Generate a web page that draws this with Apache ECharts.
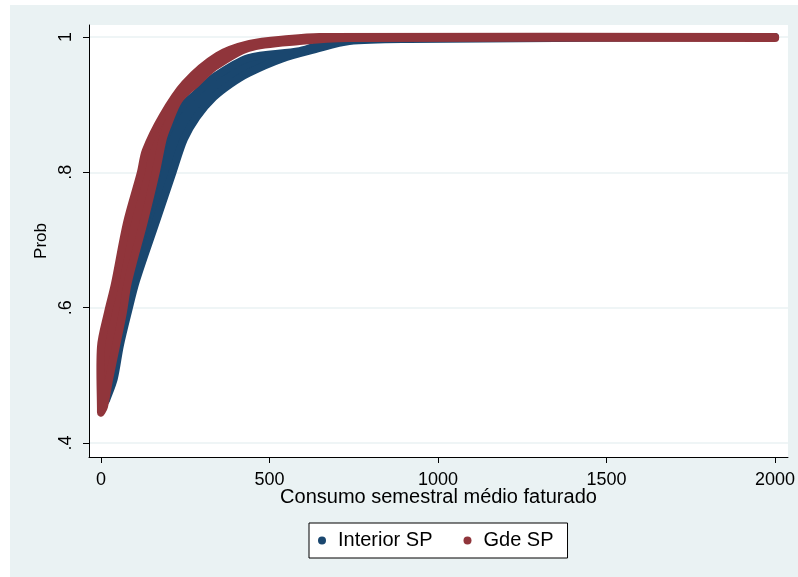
<!DOCTYPE html>
<html>
<head>
<meta charset="utf-8">
<script src="https://cdn.jsdelivr.net/npm/echarts@6/dist/echarts.min.js"></script>
<style>
  html, body { margin: 0; padding: 0; background: #ffffff; }
  #bg { position: absolute; left: 10px; top: 5px; width: 788px; height: 572px; background: #eaf2f3; }
  #chart { position: absolute; left: 0; top: 0; width: 798px; height: 577px; }
</style>
</head>
<body>
<div id="bg"></div>
<div id="chart"></div>
<script>
// ---- data ----
const seriesNames = ['Interior SP', 'Gde SP'];
const xTicks = [0, 500, 1000, 1500, 2000];
const yTicks = [0.4, 0.6, 0.8, 1];

// Interior SP band: upper envelope (left -> right) and lower envelope (right -> left)
const intUpperX = [15, 24, 44, 80, 127, 163, 183, 198, 231, 284, 337, 438, 589, 686, 825, 2000];
const intUpperY = [0.463, 0.485, 0.533, 0.629, 0.718, 0.792, 0.838, 0.860, 0.892, 0.917, 0.941, 0.969, 0.979, 0.993, 0.999, 1.0];
const intLowerX = [2000, 914, 737, 636, 536, 438, 385, 334, 284, 246, 213, 163, 104, 80, 56, 38, 15];
const intLowerY = [1.0, 0.997, 0.994, 0.982, 0.968, 0.947, 0.931, 0.911, 0.882, 0.849, 0.801, 0.727, 0.640, 0.594, 0.544, 0.495, 0.463];

// Gde SP band
const gdeUpperX = [0, 0, 21, 41, 77, 118, 133, 183, 249, 346, 441, 559, 648, 2000];
const gdeUpperY = [0.445, 0.542, 0.593, 0.634, 0.725, 0.799, 0.832, 0.883, 0.931, 0.972, 0.9897, 0.997, 1.0, 1.0];
const gdeLowerX = [2000, 737, 589, 438, 337, 284, 231, 198, 183, 163, 127, 80, 65, 44, 24, 9, 0];
const gdeLowerY = [0.9985, 0.9985, 0.994, 0.984, 0.956, 0.932, 0.907, 0.870, 0.849, 0.801, 0.727, 0.638, 0.593, 0.542, 0.494, 0.454, 0.445];

const colors = ['#1a476f', '#90353b'];

function bandData(ux, uy, lx, ly) {
  const pts = [];
  for (let i = 0; i < ux.length; i++) pts.push([ux[i], uy[i]]);
  for (let i = 0; i < lx.length; i++) pts.push([lx[i], ly[i]]);
  return pts;
}

function bandSeries(name, pts, color) {
  return {
    name: name,
    type: 'custom',
    coordinateSystem: 'cartesian2d',
    itemStyle: { color: color },
    data: pts,
    encode: { x: 0, y: 1 },
    renderItem: function (params, api) {
      if (params.dataIndexInside !== 0) return null;
      const n = params.dataInsideLength;
      const poly = [];
      for (let i = 0; i < n; i++) {
        poly.push(api.coord([api.value(0, i), api.value(1, i)]));
      }
      return {
        type: 'polygon',
        shape: { points: poly, smooth: 0.3 },
        style: { fill: color, stroke: color, lineWidth: 8, lineJoin: 'round' }
      };
    }
  };
}

const FONT = '"Liberation Sans", Arial, sans-serif';

const chart = echarts.init(document.getElementById('chart'), null, { renderer: 'canvas' });
chart.setOption({
  backgroundColor: 'transparent',
  animation: false,
  color: colors,
  grid: {
    left: 89, top: 25, right: 8, bottom: 120,
    show: true, backgroundColor: '#ffffff', borderWidth: 0
  },
  xAxis: {
    type: 'value',
    min: -35.5, max: 2038.5,
    name: 'Consumo semestral médio faturado',
    nameLocation: 'middle',
    nameGap: 30,
    nameMoveOverlap: false,
    nameTextStyle: { fontFamily: FONT, fontSize: 20, color: '#000' },
    axisLine: { show: true, onZero: false, lineStyle: { color: '#000', width: 1 } },
    axisTick: { show: true, length: 6, lineStyle: { color: '#000' }, customValues: xTicks },
    axisLabel: {
      customValues: xTicks, fontFamily: FONT, fontSize: 18, color: '#000', margin: 14,
      formatter: function (v) { return String(v); }
    },
    splitLine: { show: false }
  },
  yAxis: {
    type: 'value',
    min: 0.37931, max: 1.01773,
    name: 'Prob',
    nameLocation: 'middle',
    nameGap: 39,
    nameRotate: 90,
    nameMoveOverlap: false,
    nameTextStyle: { fontFamily: FONT, fontSize: 17, color: '#000' },
    axisLine: { show: true, onZero: false, lineStyle: { color: '#000', width: 1 } },
    axisTick: { show: true, length: 6, lineStyle: { color: '#000' }, customValues: yTicks },
    axisLabel: {
      customValues: yTicks, rotate: 90, fontFamily: FONT, fontSize: 18, color: '#000', margin: 14,
      formatter: function (v) { return v === 1 ? '1' : String(v).replace(/^0/, ''); }
    },
    splitLine: { show: true, lineStyle: { color: '#eaf2f3', width: 1.5 } }
  },
  legend: {
    left: 309, top: 523,
    orient: 'horizontal',
    backgroundColor: '#ffffff',
    borderColor: '#000', borderWidth: 1,
    padding: [7, 14, 7, 9],
    itemWidth: 22, itemHeight: 8,
    itemGap: 31,
    icon: 'circle',
    textStyle: { fontFamily: FONT, fontSize: 20, color: '#000', lineHeight: 21 },
    data: seriesNames
  },
  series: [
    bandSeries(seriesNames[0], bandData(intUpperX, intUpperY, intLowerX, intLowerY), colors[0]),
    bandSeries(seriesNames[1], bandData(gdeUpperX, gdeUpperY, gdeLowerX, gdeLowerY), colors[1])
  ]
});
</script>
</body>
</html>
